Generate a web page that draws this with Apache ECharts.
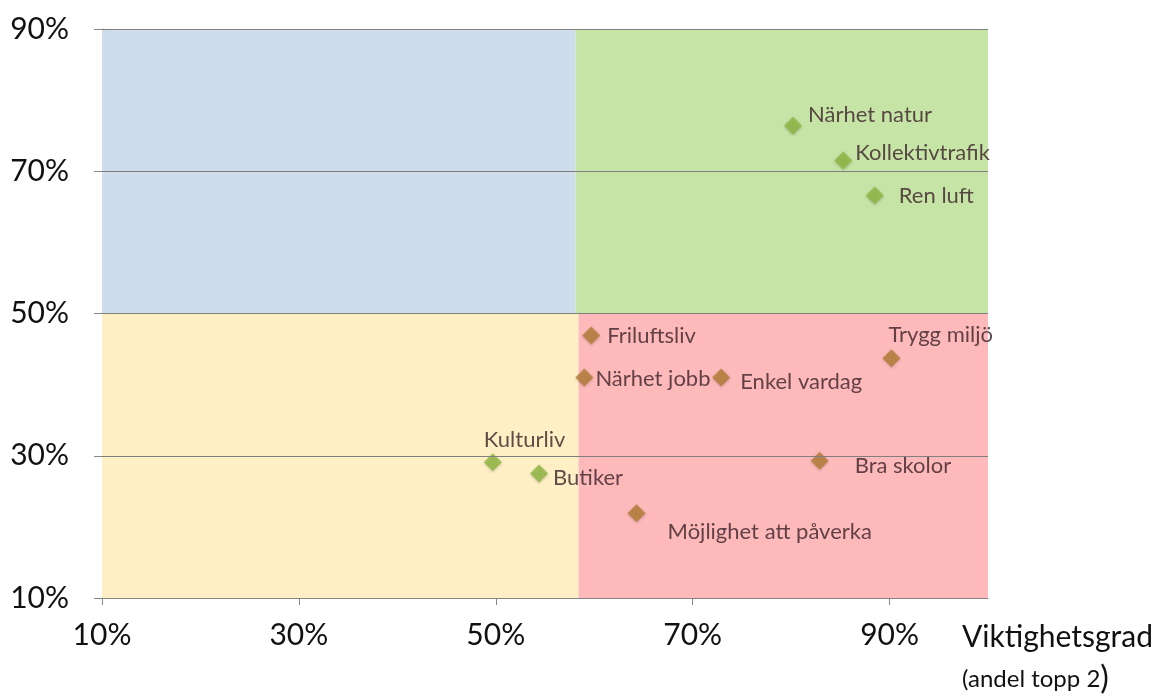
<!DOCTYPE html>
<html><head><meta charset="utf-8">
<script src="https://cdn.jsdelivr.net/npm/echarts@6/dist/echarts.min.js"></script>
<style>html,body{margin:0;padding:0;background:#fff}#c{width:1167px;height:696px}</style>
</head><body><div id="c"></div>
<script>
// Data
const names = ['Närhet natur','Kollektivtrafik','Ren luft','Friluftsliv','Närhet jobb','Enkel vardag','Trygg miljö','Kulturliv','Butiker','Möjlighet att påverka','Bra skolor'];
const importance = [80.2, 85.3, 88.5, 59.7, 59.0, 72.9, 90.2, 49.7, 54.4, 64.3, 82.9];
const satisfaction = [76.4, 71.5, 66.6, 46.9, 41.0, 41.0, 43.7, 29.1, 27.5, 21.9, 29.3];
const group = ['g','g','g','b','b','b','b','g','g','b','b'];
const xTicks = [10, 30, 50, 70, 90];
const yTicks = [10, 30, 50, 70, 90];
const quadSplitTop = 58.1;
const quadSplitBottom = 58.4;
const xTitle = 'Viktighetsgrad';
const xSubtitle = '(andel topp 2';

// styling (not data)
const labelOffsets = {
  'Närhet natur': [15, -11], 'Kollektivtrafik': [12, -8], 'Ren luft': [24, 0],
  'Friluftsliv': [16, 0], 'Närhet jobb': [11, 1], 'Enkel vardag': [19, 4],
  'Trygg miljö': [-3, -23], 'Kulturliv': [-9, -22], 'Butiker': [14, 4],
  'Möjlighet att påverka': [31, 19], 'Bra skolor': [35, 5]
};
const FONT = 'Lato';
const colors = {g: '#8fb641', b: '#b27c34'};

const pts = names.map((n, i) => ({
  value: [importance[i], satisfaction[i]], name: n,
  itemStyle: {color: colors[group[i]], shadowBlur: 3, shadowColor: 'rgba(0,0,0,0.25)', shadowOffsetY: 1},
  label: {offset: labelOffsets[n]}
}));

const chart = echarts.init(document.getElementById('c'));
chart.setOption({
  animation: false,
  grid: {left: 102, right: 179, top: 29, bottom: 98},
  xAxis: {
    type: 'value', min: 10, max: 100, interval: 20,
    axisLine: {show: true, lineStyle: {color: '#868686', width: 1}},
    axisTick: {show: true, length: 7, customValues: xTicks, lineStyle: {color: '#868686'}},
    axisLabel: {customValues: xTicks, formatter: v => v + '%', fontFamily: FONT, fontSize: 30, color: '#111', margin: 22},
    splitLine: {show: false}
  },
  yAxis: {
    type: 'value', min: 10, max: 90, interval: 20,
    axisLine: {show: true, lineStyle: {color: '#868686', width: 1}},
    axisTick: {show: true, length: 8, lineStyle: {color: '#868686'}},
    axisLabel: {formatter: v => v + '%', fontFamily: FONT, fontSize: 30, color: '#111', margin: 33},
    splitLine: {show: false}
  },
  graphic: [
    {type: 'text', z: 100, x: 962, y: 637, style: {text: xTitle, font: '30px ' + FONT, fill: '#111', align: 'left', verticalAlign: 'middle'}},
    {type: 'text', z: 100, x: 962, y: 679, style: {
      text: '{a|' + xSubtitle + '}{b|)}',
      rich: {a: {fontFamily: FONT, fontSize: 24, color: '#111'}, b: {fontFamily: FONT, fontSize: 32, color: '#111'}},
      align: 'left', verticalAlign: 'middle', fill: '#111'}}
  ],
  series: [{
    type: 'scatter', symbol: 'diamond', symbolSize: 18,
    data: pts,
    label: {show: true, position: 'inside', align: 'left', verticalAlign: 'middle',
      formatter: p => p.name, fontFamily: FONT, fontSize: 22, color: '#3b2228'},
    markArea: {
      silent: true,
      data: [
        [{coord: [10, 50], itemStyle: {color: '#cfdcec'}}, {coord: [quadSplitTop, 90]}],
        [{coord: [quadSplitTop, 50], itemStyle: {color: '#c7e4a7'}}, {coord: [100, 90]}],
        [{coord: [10, 10], itemStyle: {color: '#fef0c4'}}, {coord: [quadSplitBottom, 50]}],
        [{coord: [quadSplitBottom, 10], itemStyle: {color: '#febabb'}}, {coord: [100, 50]}]
      ]
    },
    markLine: {
      silent: true, symbol: 'none', label: {show: false},
      lineStyle: {color: '#7f7f7f', width: 1, type: 'solid'},
      data: yTicks.filter(v => v > 10).map(v => ({yAxis: v}))
    }
  }]
});
</script></body></html>
